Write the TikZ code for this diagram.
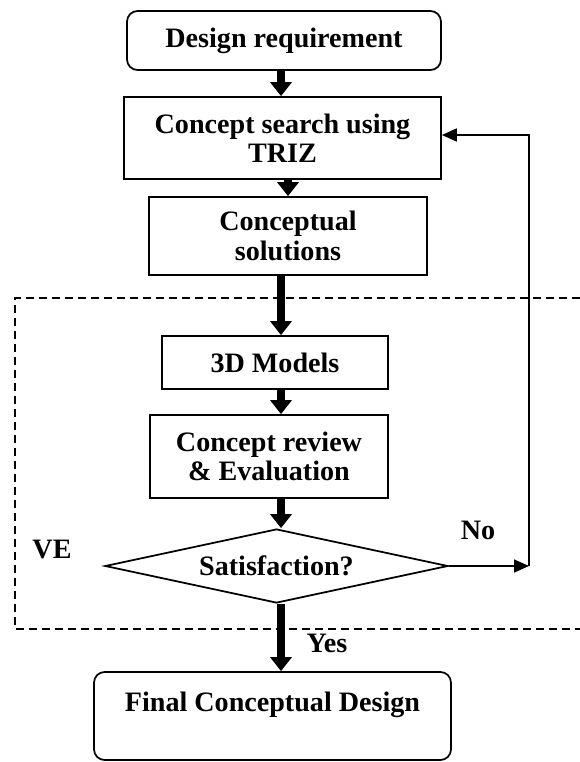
\documentclass[tikz,border=0pt]{standalone}
\usepackage{fontspec}
\setmainfont{Liberation Serif}
\usepackage{tikz}
\usetikzlibrary{arrows.meta, positioning, shapes.geometric}

\begin{document}
\begin{tikzpicture}[x=0.02cm, y=-0.02cm,
  every node/.style={font=\bfseries\fontsize{16}{16.8}\selectfont, align=center},
  box/.style={rectangle, draw, line width=1pt, inner sep=2pt},
  rbox/.style={box, rounded corners=6pt},
  decision/.style={diamond, aspect=4.64, draw, line width=1pt, inner sep=0pt},
  bigarr/.style={-{Triangle[length=0.28cm, width=0.42cm]}, line width=5pt},
  arr/.style={-{Triangle[length=0.3cm, width=0.26cm]}, line width=0.9pt},
  region/.style={dashed, dash pattern=on 0.16cm off 0.1cm, line width=0.9pt}
]
  \useasboundingbox (0,0) rectangle (580,762);

  \node[rbox, minimum width=6.28cm, minimum height=1.18cm] (dreq) at (284,40.5) {Design requirement};
  \node[box, minimum width=6.34cm, minimum height=1.64cm] (search) at (282.5,138) {Concept search using\\TRIZ};
  \node[box, minimum width=5.56cm, minimum height=1.56cm] (solutions) at (288,236) {Conceptual\\solutions};
  \node[box, minimum width=4.52cm, minimum height=1.06cm] (models) at (275,362.5) {3D Models};
  \node[box, minimum width=4.76cm, minimum height=1.66cm] (review) at (269,456.5) {Concept review\\\& Evaluation};
  \node[decision, minimum width=6.86cm, minimum height=1.48cm] (satis) at (276.5,566) {Satisfaction?};
  \node[rbox, minimum width=7.14cm, minimum height=1.76cm] (final) at (272.5,716) {Final Conceptual Design\\~};

  % VE region, open to the right
  \draw[region] (580,298) -- (15,298) -- (15,629) -- (580,629);
  \node (ve) at (52,550) {VE};
  \node (no) at (478,530) {No};
  \node (yes) at (327,643) {Yes};

  \coordinate (spine) at (281,0);
  \coordinate (loop) at (529,566);

  \draw[bigarr] (dreq.south -| spine) -- (search.north -| spine);
  \draw[bigarr] (search.south -| solutions) -- (solutions.north);
  \draw[bigarr] (solutions.south -| spine) -- (models.north -| spine);
  \draw[bigarr] (models.south -| spine) -- (review.north -| spine);
  \draw[bigarr] (review.south -| spine) -- (satis.north -| spine);
  \draw[bigarr] (satis.south -| spine) -- (final.north -| spine);

  \draw[arr] (satis.east) -- (loop);
  \draw[arr] (loop) |- ([yshift=0.06cm]search.east);
\end{tikzpicture}
\end{document}
